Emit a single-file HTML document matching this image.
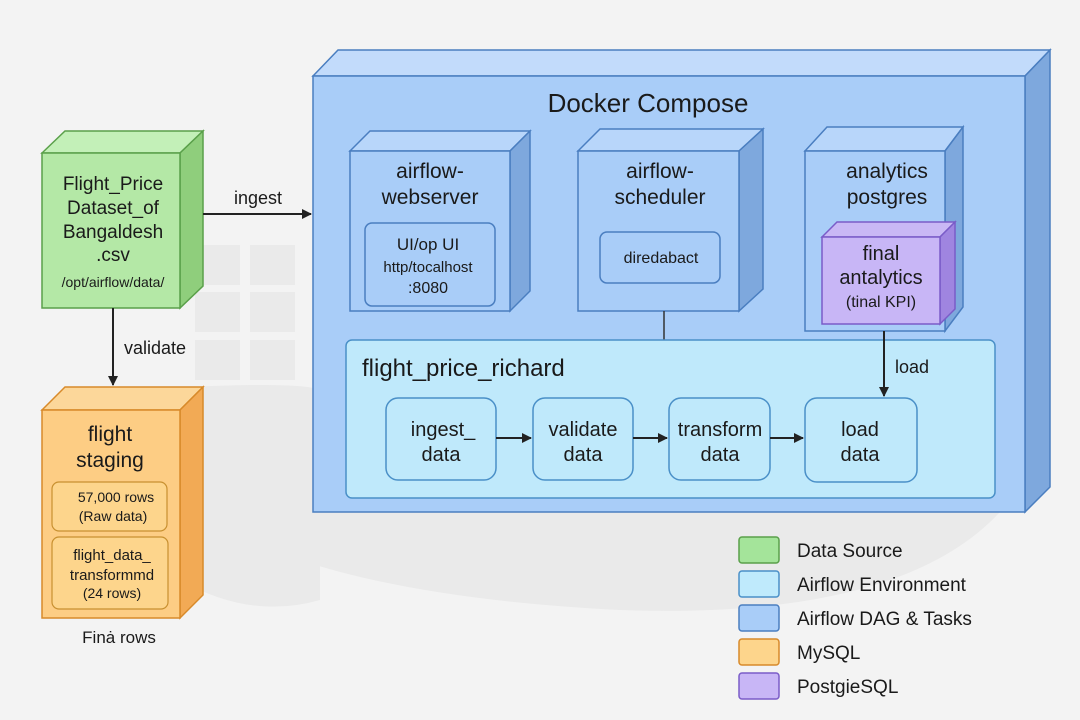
<!DOCTYPE html>
<html><head><meta charset="utf-8"><style>
html,body{margin:0;padding:0;background:#f3f3f3;}
svg{display:block;font-family:"Liberation Sans",sans-serif;}
</style></head><body>
<svg width="1080" height="720" viewBox="0 0 1080 720" xmlns="http://www.w3.org/2000/svg">
<defs>
<marker id="ar" markerWidth="10" markerHeight="10" refX="9" refY="5" orient="auto" markerUnits="userSpaceOnUse"><path d="M0,0 L10,5 L0,10 z" fill="#222"/></marker>
</defs>
<rect width="1080" height="720" fill="#f3f3f3"/>
<g fill="#eaeaea">
<rect x="195" y="245" width="45" height="40"/><rect x="250" y="245" width="45" height="40"/>
<rect x="195" y="292" width="45" height="40"/><rect x="250" y="292" width="45" height="40"/>
<rect x="195" y="340" width="45" height="40"/><rect x="250" y="340" width="45" height="40"/>
<path d="M130,390 Q300,380 320,390 L320,600 Q250,620 180,580 Q120,520 130,390z"/>
<path d="M300,512 L1000,512 Q900,620 620,610 Q420,600 300,560z"/>
</g>

<polygon points="313,76 338,50 1050,50 1025,76" fill="#c2dbfb" stroke="#4a7ec0" stroke-width="1.5"/>
<polygon points="1025,76 1050,50 1050,487 1025,512" fill="#7ea8dd" stroke="#4a7ec0" stroke-width="1.5"/>
<rect x="313" y="76" width="712" height="436" fill="#a9cdf8" stroke="#4a7ec0" stroke-width="1.5"/>
<text x="648" y="112" font-size="26" text-anchor="middle" fill="#1a1a1a">Docker Compose</text>

<polygon points="350,151 370,131 530,131 510,151" fill="#b8d6fa" stroke="#4a7ec0" stroke-width="1.5"/>
<polygon points="510,151 530,131 530,291 510,311" fill="#7ea8dd" stroke="#4a7ec0" stroke-width="1.5"/>
<rect x="350" y="151" width="160" height="160" fill="#a9cdf8" stroke="#4a7ec0" stroke-width="1.5"/>
<text x="430" y="178" font-size="21" text-anchor="middle" fill="#1a1a1a">airflow-</text>
<text x="430" y="204" font-size="21" text-anchor="middle" fill="#1a1a1a">webserver</text>
<rect x="365" y="223" width="130" height="83" rx="7" fill="#a9cdf8" stroke="#4a7ec0" stroke-width="1.5"/>
<text x="428" y="250" font-size="17" text-anchor="middle" fill="#1a1a1a">UI/op UI</text>
<text x="428" y="272" font-size="15" text-anchor="middle" fill="#1a1a1a">http/tocalhost</text>
<text x="428" y="293" font-size="16" text-anchor="middle" fill="#1a1a1a">:8080</text>

<polygon points="578,151 600,129 763,129 739,151" fill="#b8d6fa" stroke="#4a7ec0" stroke-width="1.5"/>
<polygon points="739,151 763,129 763,289 739,311" fill="#7ea8dd" stroke="#4a7ec0" stroke-width="1.5"/>
<rect x="578" y="151" width="161" height="160" fill="#a9cdf8" stroke="#4a7ec0" stroke-width="1.5"/>
<text x="660" y="178" font-size="21" text-anchor="middle" fill="#1a1a1a">airflow-</text>
<text x="660" y="204" font-size="21" text-anchor="middle" fill="#1a1a1a">scheduler</text>
<rect x="600" y="232" width="120" height="51" rx="7" fill="#a9cdf8" stroke="#4a7ec0" stroke-width="1.5"/>
<text x="661" y="263" font-size="16" text-anchor="middle" fill="#1a1a1a">diredabact</text>
<line x1="664" y1="311" x2="664" y2="340" stroke="#333" stroke-width="1.5"/>

<polygon points="805,151 827,127 963,127 945,151" fill="#b8d6fa" stroke="#4a7ec0" stroke-width="1.5"/>
<polygon points="945,151 963,127 963,307 945,331" fill="#7ea8dd" stroke="#4a7ec0" stroke-width="1.5"/>
<rect x="805" y="151" width="140" height="180" fill="#a9cdf8" stroke="#4a7ec0" stroke-width="1.5"/>
<text x="887" y="178" font-size="21" text-anchor="middle" fill="#1a1a1a">analytics</text>
<text x="887" y="204" font-size="21" text-anchor="middle" fill="#1a1a1a">postgres</text>
<polygon points="822,237 837,222 955,222 940,237" fill="#c9b8f5" stroke="#7a5cc8" stroke-width="1.5"/>
<polygon points="940,237 955,222 955,309 940,324" fill="#9f85e0" stroke="#7a5cc8" stroke-width="1.5"/>
<rect x="822" y="237" width="118" height="87" fill="#c8b6f6" stroke="#7a5cc8" stroke-width="1.5"/>
<text x="881" y="260" font-size="20" text-anchor="middle" fill="#1a1a1a">final</text>
<text x="881" y="284" font-size="20" text-anchor="middle" fill="#1a1a1a">antalytics</text>
<text x="881" y="307" font-size="16" text-anchor="middle" fill="#1a1a1a">(tinal KPI)</text>

<rect x="346" y="340" width="649" height="158" rx="6" fill="#bfe9fb" stroke="#4a90c8" stroke-width="1.5"/>
<text x="362" y="376" font-size="24" fill="#1a1a1a">flight_price_richard</text>
<line x1="884" y1="331" x2="884" y2="396" stroke="#222" stroke-width="2" marker-end="url(#ar)"/>
<text x="895" y="373" font-size="18" fill="#1a1a1a">load</text>
<g fill="#bfe9fb" stroke="#4a90c8" stroke-width="1.5">
<rect x="386" y="398" width="110" height="82" rx="12"/>
<rect x="533" y="398" width="100" height="82" rx="12"/>
<rect x="669" y="398" width="101" height="82" rx="12"/>
<rect x="805" y="398" width="112" height="84" rx="12"/>
</g>
<g font-size="20" text-anchor="middle" fill="#1a1a1a">
<text x="443" y="436">ingest_</text><text x="441" y="461">data</text>
<text x="583" y="436">validate</text><text x="583" y="461">data</text>
<text x="720" y="436">transform</text><text x="720" y="461">data</text>
<text x="860" y="436">load</text><text x="860" y="461">data</text>
</g>
<g stroke="#222" stroke-width="2">
<line x1="496" y1="438" x2="531" y2="438" marker-end="url(#ar)"/>
<line x1="633" y1="438" x2="667" y2="438" marker-end="url(#ar)"/>
<line x1="770" y1="438" x2="803" y2="438" marker-end="url(#ar)"/>
</g>

<polygon points="42,153 65,131 203,131 180,153" fill="#c3f0b8" stroke="#5aa04a" stroke-width="1.5"/>
<polygon points="180,153 203,131 203,286 180,308" fill="#8fce7c" stroke="#5aa04a" stroke-width="1.5"/>
<rect x="42" y="153" width="138" height="155" fill="#b4e8a6" stroke="#5aa04a" stroke-width="1.5"/>
<g font-size="19" text-anchor="middle" fill="#1a1a1a">
<text x="113" y="190">Flight_Price</text>
<text x="113" y="214">Dataset_of</text>
<text x="113" y="238">Bangaldesh</text>
<text x="113" y="261">.csv</text>
</g>
<text x="113" y="287" font-size="14" text-anchor="middle" fill="#1a1a1a">/opt/airflow/data/</text>
<line x1="203" y1="214" x2="311" y2="214" stroke="#222" stroke-width="2" marker-end="url(#ar)"/>
<text x="258" y="204" font-size="18" text-anchor="middle" fill="#1a1a1a">ingest</text>
<line x1="113" y1="308" x2="113" y2="385" stroke="#222" stroke-width="2" marker-end="url(#ar)"/>
<text x="124" y="354" font-size="18" fill="#1a1a1a">validate</text>

<polygon points="42,410 65,387 203,387 180,410" fill="#fcd79a" stroke="#d88a2a" stroke-width="1.5"/>
<polygon points="180,410 203,387 203,595 180,618" fill="#f2aa55" stroke="#d88a2a" stroke-width="1.5"/>
<rect x="42" y="410" width="138" height="208" fill="#fdcd84" stroke="#d88a2a" stroke-width="1.5"/>
<text x="110" y="441" font-size="21" text-anchor="middle" fill="#1a1a1a">flight</text>
<text x="110" y="467" font-size="21" text-anchor="middle" fill="#1a1a1a">staging</text>
<rect x="52" y="482" width="115" height="49" rx="7" fill="#fdd58c" stroke="#c89030" stroke-width="1.2"/>
<text x="116" y="502" font-size="14" text-anchor="middle" fill="#1a1a1a">57,000 rows</text>
<text x="113" y="521" font-size="14" text-anchor="middle" fill="#1a1a1a">(Raw data)</text>
<rect x="52" y="537" width="116" height="72" rx="7" fill="#fdd58c" stroke="#c89030" stroke-width="1.2"/>
<text x="112" y="560" font-size="15" text-anchor="middle" fill="#1a1a1a">flight_data_</text>
<text x="112" y="580" font-size="15" text-anchor="middle" fill="#1a1a1a">transformmd</text>
<text x="112" y="598" font-size="14" text-anchor="middle" fill="#1a1a1a">(24 rows)</text>
<text x="119" y="643" font-size="17" text-anchor="middle" fill="#1a1a1a">Finȧ rows</text>

<g stroke-width="1.5">
<rect x="739" y="537" width="40" height="26" rx="3" fill="#a4e49a" stroke="#5aa04a"/>
<rect x="739" y="571" width="40" height="26" rx="3" fill="#bfeafc" stroke="#4a90c8"/>
<rect x="739" y="605" width="40" height="26" rx="3" fill="#a9cdf8" stroke="#4a7ec0"/>
<rect x="739" y="639" width="40" height="26" rx="3" fill="#fdd58c" stroke="#d88a2a"/>
<rect x="739" y="673" width="40" height="26" rx="3" fill="#c8b6f6" stroke="#7a5cc8"/>
</g>
<g font-size="19" fill="#1a1a1a">
<text x="797" y="557">Data Source</text>
<text x="797" y="591">Airflow Environment</text>
<text x="797" y="625">Airflow DAG &amp; Tasks</text>
<text x="797" y="659">MySQL</text>
<text x="797" y="693">PostgieSQL</text>
</g>
</svg>
</body></html>
